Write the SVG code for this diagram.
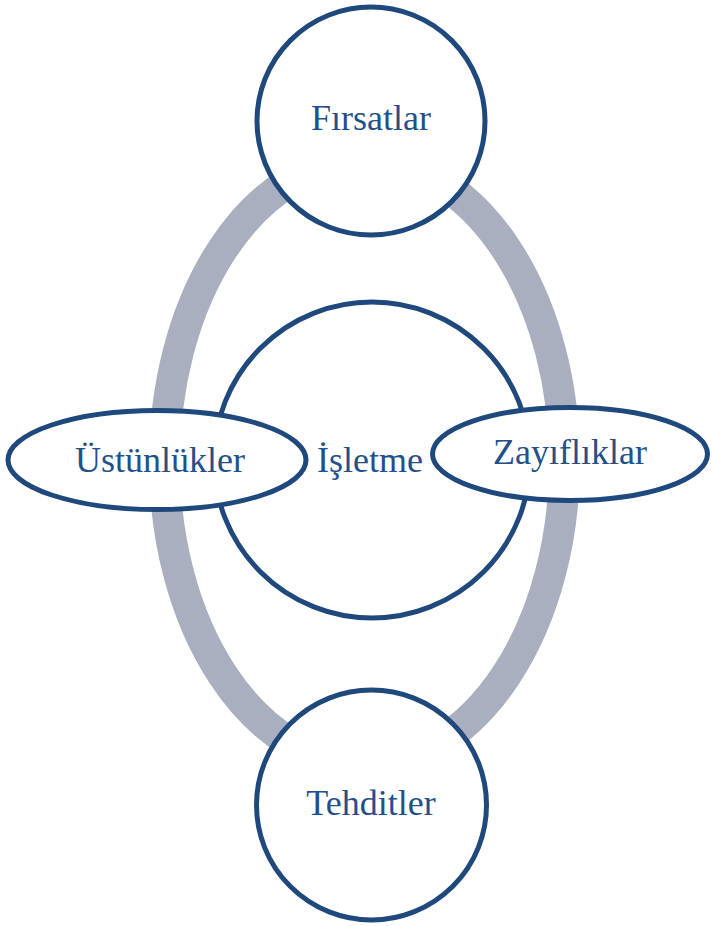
<svg xmlns="http://www.w3.org/2000/svg" width="712" height="926" viewBox="0 0 712 926">
  <style>
    .node { fill: #ffffff; stroke: #1F497D; stroke-width: 5; }
    .ring { fill: none; stroke: #A9AFBE; stroke-width: 31; }
    .lbl { font-family: "Liberation Serif", "Times New Roman", serif; font-size: 36px; fill: #23508A; text-anchor: middle; }
  </style>
  <rect width="712" height="926" fill="#ffffff"/>
  <g id="connectors">
    <ellipse class="ring" cx="364.5" cy="462" rx="200" ry="302"/>
  </g>
  <g id="isletme">
    <circle class="node" cx="372" cy="460" r="158"/>
    <text class="lbl" x="370" y="472">İşletme</text>
  </g>
  <g id="firsatlar">
    <circle class="node" cx="371" cy="121" r="114"/>
    <text class="lbl" x="371" y="130">Fırsatlar</text>
  </g>
  <g id="tehditler">
    <circle class="node" cx="371.5" cy="805" r="115"/>
    <text class="lbl" x="371" y="815">Tehditler</text>
  </g>
  <g id="ustunlukler">
    <ellipse class="node" cx="157" cy="460" rx="149" ry="49.5"/>
    <text class="lbl" x="160" y="472">Üstünlükler</text>
  </g>
  <g id="zayifliklar">
    <ellipse class="node" cx="570" cy="454" rx="137.5" ry="46.5"/>
    <text class="lbl" x="570" y="464">Zayıflıklar</text>
  </g>
</svg>
